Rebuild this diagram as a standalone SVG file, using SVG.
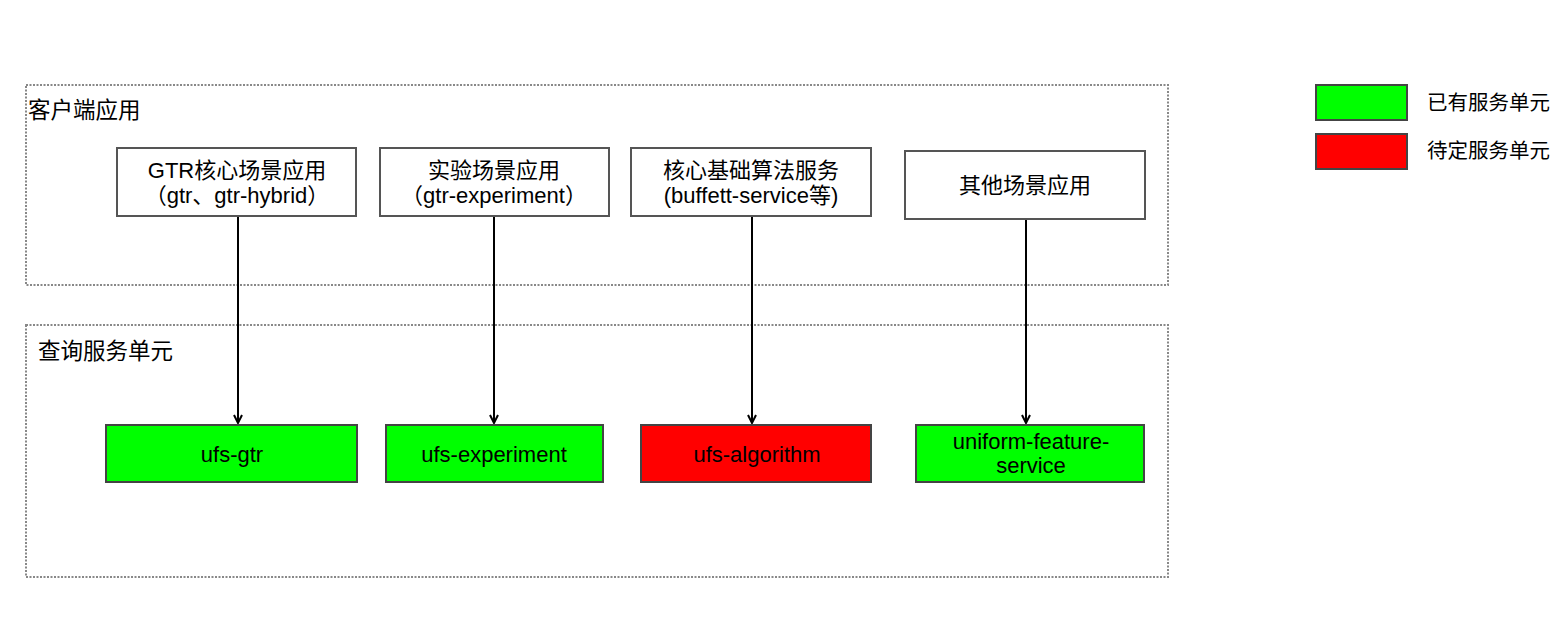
<svg xmlns="http://www.w3.org/2000/svg" width="1563" height="622" viewBox="0 0 1563 622">
<style>
.t{font-family:"Liberation Sans","Noto Sans CJK SC",sans-serif;font-size:22px;fill:#000;text-anchor:middle}
.lbl{font-family:"Liberation Sans","Noto Sans CJK SC",sans-serif;font-size:22.5px;fill:#000}
.cont{fill:none;stroke:#888;stroke-width:2;stroke-dasharray:2 1.5}
.box{fill:#fff;stroke:#555;stroke-width:2}
.g{fill:#00ff00;stroke:#444;stroke-width:2}
.r{fill:#ff0000;stroke:#444;stroke-width:2}
.c{stroke:#000;stroke-width:2;fill:none;marker-end:url(#a)}
</style>
<defs>
<marker id="a" viewBox="0 0 10 10" refX="9" refY="5" markerWidth="10" markerHeight="10" markerUnits="userSpaceOnUse" orient="auto"><path d="M1,1 L9,5 L1,9" fill="none" stroke="#000" stroke-width="2"/></marker>
</defs>
<rect width="1563" height="622" fill="#fff"/>
<g id="client-group">
<rect class="cont" x="26" y="85" width="1142" height="200"/>
<text class="lbl" x="28" y="118">客户端应用</text>
</g>
<g id="query-group">
<rect class="cont" x="26" y="325" width="1142" height="252"/>
<text class="lbl" x="38" y="359">查询服务单元</text>
</g>
<g id="gtr-app">
<rect class="box" x="117" y="148" width="239" height="68"/>
<text class="t" x="237" y="178">GTR核心场景应用</text>
<text class="t" x="237" y="203">（gtr、gtr-hybrid）</text>
</g>
<g id="exp-app">
<rect class="box" x="380" y="148" width="229" height="68"/>
<text class="t" x="494" y="178">实验场景应用</text>
<text class="t" x="494" y="203">（gtr-experiment）</text>
</g>
<g id="algo-app">
<rect class="box" x="631" y="148" width="240" height="68"/>
<text class="t" x="751" y="178">核心基础算法服务</text>
<text class="t" x="751" y="203">(buffett-service等)</text>
</g>
<g id="other-app">
<rect class="box" x="905" y="151" width="240" height="68"/>
<text class="t" x="1025" y="193">其他场景应用</text>
</g>
<g id="ufs-gtr">
<rect class="g" x="106" y="425" width="251" height="57"/>
<text class="t" x="232" y="462">ufs-gtr</text>
</g>
<g id="ufs-experiment">
<rect class="g" x="386" y="425" width="217" height="57"/>
<text class="t" x="494" y="462">ufs-experiment</text>
</g>
<g id="ufs-algorithm">
<rect class="r" x="641" y="425" width="230" height="57"/>
<text class="t" x="757" y="462">ufs-algorithm</text>
</g>
<g id="ufs-uniform">
<rect class="g" x="916" y="425" width="228" height="57"/>
<text class="t" x="1031" y="449">uniform-feature-</text>
<text class="t" x="1031" y="473">service</text>
</g>
<g id="connectors">
<line class="c" x1="238" y1="217" x2="238" y2="423"/>
<line class="c" x1="494" y1="217" x2="494" y2="423"/>
<line class="c" x1="752" y1="217" x2="752" y2="423"/>
<line class="c" x1="1026" y1="220" x2="1026" y2="423"/>
</g>
<g id="legend-existing">
<rect class="g" x="1316" y="85" width="91" height="35"/>
<text class="lbl" x="1427" y="110" style="font-size:20.5px">已有服务单元</text>
</g>
<g id="legend-pending">
<rect class="r" x="1316" y="134" width="91" height="35"/>
<text class="lbl" x="1427" y="158" style="font-size:20.5px">待定服务单元</text>
</g>
</svg>
